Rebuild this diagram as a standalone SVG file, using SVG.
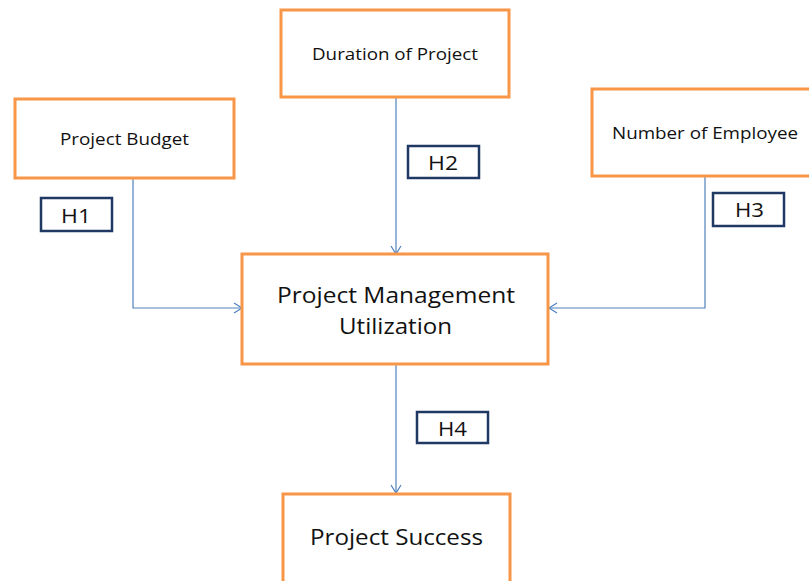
<svg xmlns="http://www.w3.org/2000/svg" width="809" height="581" viewBox="0 0 809 581">
<style>
.node{fill:#fff;stroke:#F79646;stroke-width:3}
.hbox{fill:#fff;stroke:#1F3864;stroke-width:2.5}
.t{font-family:"Open Sans","Noto Sans",sans-serif;fill:#111;text-anchor:middle}
.s{font-size:16px}
.l{font-size:21px}
.h{font-size:19.5px}
.c{fill:none;stroke:#4F81BD;stroke-width:1.2}
</style>
<defs>
<marker id="arr" markerWidth="12" markerHeight="12" refX="10" refY="6" orient="auto" markerUnits="userSpaceOnUse">
<path d="M2,1 L10,6 L2,11" fill="none" stroke="#4F81BD" stroke-width="1.2"/>
</marker>
</defs>
<rect width="809" height="581" fill="#fff"/>
<g id="connectors">
<path class="c" d="M133,178 V308 H242" marker-end="url(#arr)"/>
<path class="c" d="M396,97 V254" marker-end="url(#arr)"/>
<path class="c" d="M705,176 V308 H549" marker-end="url(#arr)"/>
<path class="c" d="M396,364 V493" marker-end="url(#arr)"/>
</g>
<g id="budget"><rect class="node" x="15" y="99" width="219" height="79"/><text class="t s" x="124.5" y="145" textLength="129" lengthAdjust="spacingAndGlyphs">Project Budget</text></g>
<g id="duration"><rect class="node" x="281" y="10" width="228" height="87"/><text class="t s" x="395" y="60" textLength="166" lengthAdjust="spacingAndGlyphs">Duration of Project</text></g>
<g id="employee"><rect class="node" x="592" y="89" width="230" height="87"/><text class="t s" x="705" y="139" textLength="186" lengthAdjust="spacingAndGlyphs">Number of Employee</text></g>
<g id="pmu"><rect class="node" x="242" y="254" width="306" height="110"/><text class="t l" x="396" y="303" textLength="238" lengthAdjust="spacingAndGlyphs">Project Management</text><text class="t l" x="395.5" y="334" textLength="113" lengthAdjust="spacingAndGlyphs">Utilization</text></g>
<g id="success"><rect class="node" x="283" y="494" width="227" height="95"/><text class="t l" x="396.5" y="545" textLength="173" lengthAdjust="spacingAndGlyphs">Project Success</text></g>
<g id="h1"><rect class="hbox" x="41" y="198" width="71" height="33"/><text class="t h" x="76" y="223" textLength="30" lengthAdjust="spacingAndGlyphs">H1</text></g>
<g id="h2"><rect class="hbox" x="408" y="146" width="71" height="32"/><text class="t h" x="443" y="170" textLength="30" lengthAdjust="spacingAndGlyphs">H2</text></g>
<g id="h3"><rect class="hbox" x="713" y="193" width="71" height="33"/><text class="t h" x="749.5" y="217" textLength="29" lengthAdjust="spacingAndGlyphs">H3</text></g>
<g id="h4"><rect class="hbox" x="417" y="412" width="71" height="31"/><text class="t h" x="452.5" y="436" textLength="29" lengthAdjust="spacingAndGlyphs">H4</text></g>
</svg>
